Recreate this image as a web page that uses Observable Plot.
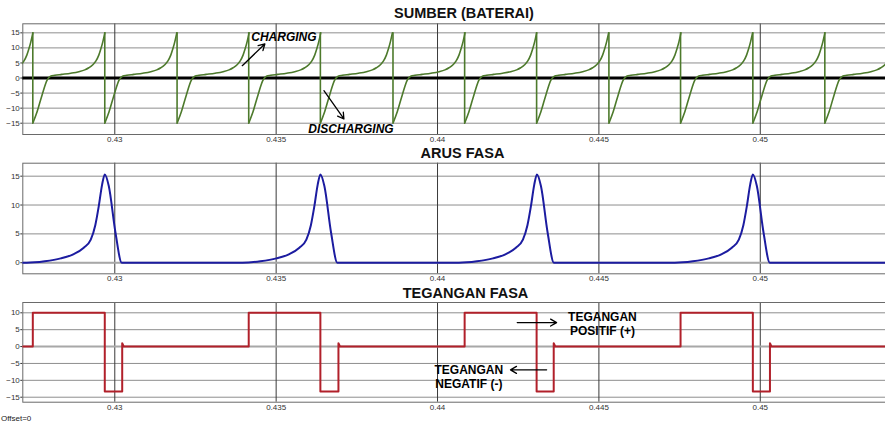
<!DOCTYPE html>
<html>
<head>
<meta charset="utf-8">
<script src="https://cdn.jsdelivr.net/npm/d3@7"></script>
<script src="https://cdn.jsdelivr.net/npm/@observablehq/plot@0.6"></script>
<style>
  html, body { margin: 0; padding: 0; background: #fff; }
  #wrap { position: relative; width: 885px; height: 425px; overflow: hidden; font-family: "Liberation Sans", Arial, sans-serif; }
  .panel { position: absolute; left: 0; }
  .title { position: absolute; transform: translateX(-50%); font-weight: bold; font-size: 14.5px; line-height: 16px; white-space: nowrap; color: #111; }
  #offset { position: absolute; left: 1px; top: 414px; font-size: 8px; color: #222; }
</style>
</head>
<body>
<div id="wrap"></div>
<script>
// ---- data ----
const xDomain = [0.42715, 0.45388];
const xTicks = [0.43, 0.435, 0.44, 0.445, 0.45];
const xTickLabels = ["0.43", "0.435", "0.44", "0.445", "0.45"];

const batteryTicks = [-15, -10, -5, 0, 5, 10, 15];
const currentTicks = [0, 5, 10, 15];
const voltageTicks = [-15, -10, -5, 0, 5, 10];

// battery (SUMBER): cycle start times (drop from +15 to -15); first one is just off-screen
const batteryCycleStarts = [0.42523, 0.42746, 0.42969, 0.43193, 0.43415, 0.43637, 0.43862,
                            0.44084, 0.44307, 0.44531, 0.44753, 0.44977, 0.45200];
// shape of one cycle: offset after drop (ms) and value
const batteryShapeMs = [0, 0.133, 0.288, 0.443, 0.549, 0.682, 0.899, 1.178, 1.426, 1.611, 1.735, 1.859, 1.952, 2.045, 2.107, 2.169, 2.231];
const batteryShapeV  = [-15, -11.2, -5.6, -0.7, 0.6, 0.9, 1.2, 1.6, 2.1, 2.7, 3.4, 4.4, 5.6, 7.6, 9.6, 12, 15];
const batteryPeak = 15, batteryTrough = -15;

// phase current (ARUS FASA): peak times and pulse shape
const currentPeaks = [0.42969, 0.43637, 0.44308, 0.44977];
const currentShapeMs = [-2.417, -1.859, -1.364, -0.961, -0.651, -0.434, -0.294, -0.186, -0.084, 0, 0.124, 0.332, 0.527];
const currentShapeA  = [0, 0.25, 0.75, 1.5, 2.6, 4.0, 6.5, 9.8, 13.5, 15.3, 13.3, 5.2, 0];

// phase voltage (TEGANGAN FASA)
const posStart = [0.42746, 0.43415, 0.44084, 0.44753];
const negStart = [0.42969, 0.43637, 0.44307, 0.44977];
const negEnd   = [0.43023, 0.43693, 0.44360, 0.45030];
const posLevel = 10, negLevel = -13.3, spikeLevel = 1.0, restLevel = 0;

// annotations
const chargeNote = {t: 0.43524, v: 13.7, text: "CHARGING", t1: 0.43395, v1: 4.1, t2: 0.43465, v2: 11.3};
const dischargeNote = {t: 0.43732, v: -16.9, text: "DISCHARGING", t1: 0.43648, v1: -4.2, t2: 0.43710, v2: -13.6};
const posNote = {t: 0.44511, v: 6.87, text: "TEGANGAN\nPOSITIF (+)", t1: 0.44247, v1: 7.1, t2: 0.44369, v2: 7.1};
const negNote = {t: 0.44097, v: -8.9, text: "TEGANGAN\nNEGATIF (-)", t1: 0.44338, v1: -6.9, t2: 0.44226, v2: -6.9};

// ---- build tables ----
const batteryData = [];
batteryCycleStarts.forEach((s, k) => {
  batteryShapeMs.forEach((m, i) => batteryData.push({t: s + m / 1000, v: batteryShapeV[i], cycle: k}));
});

const currentData = [{t: xDomain[0], a: 0}];
currentPeaks.forEach(p => {
  currentShapeMs.forEach((m, i) => currentData.push({t: p + m / 1000, a: currentShapeA[i]}));
});
currentData.push({t: xDomain[1], a: 0});

const voltageData = [{t: xDomain[0], v: restLevel}];
posStart.forEach((s, i) => {
  voltageData.push({t: s, v: restLevel}, {t: s, v: posLevel},
                   {t: negStart[i], v: posLevel}, {t: negStart[i], v: negLevel},
                   {t: negEnd[i], v: negLevel}, {t: negEnd[i], v: spikeLevel},
                   {t: negEnd[i] + 0.00005, v: restLevel});
});
voltageData.push({t: xDomain[1], v: restLevel});

const fmtX = d => xTickLabels[xTicks.indexOf(d)];
const baseStyle = {fontSize: "8px", fontFamily: "Liberation Sans, Arial, sans-serif", color: "#333", background: "transparent", overflow: "visible"};

function xOpts() {
  return {domain: xDomain, ticks: xTicks, tickFormat: fmtX, tickSize: 0, tickPadding: 2, label: null};
}
function gridMarks(yTicks) {
  return [
    Plot.ruleY(yTicks, {stroke: "#8e8e8e", strokeWidth: 1}),
    Plot.ruleX(xTicks, {stroke: "#3a3a3a", strokeWidth: 1}),
    Plot.frame({stroke: "#6a6a6a"})
  ];
}
const annText = {fontWeight: "bold", fontSize: 12, fill: "#000"};

// ---- panel 1: battery ----
const p1 = Plot.plot({
  width: 885, height: 145, marginLeft: 22.3, marginRight: 0, marginTop: 23.3, marginBottom: 11,
  style: baseStyle,
  x: xOpts(),
  y: {domain: [-18.75, 18], ticks: batteryTicks, tickSize: 2, tickPadding: 1, label: null},
  marks: [
    ...gridMarks(batteryTicks),
    Plot.ruleY([0], {stroke: "#000", strokeWidth: 3.2}),
    Plot.ruleX(batteryCycleStarts, {y1: batteryTrough, y2: batteryPeak, stroke: "#4d7a2c", strokeWidth: 1.6, clip: true}),
    Plot.line(batteryData, {x: "t", y: "v", z: "cycle", curve: "monotone-x", stroke: "#4d7a2c", strokeWidth: 1.6, clip: true}),
    Plot.text([chargeNote], {x: "t", y: "v", text: "text", ...annText, fontStyle: "italic"}),
    Plot.text([dischargeNote], {x: "t", y: "v", text: "text", ...annText, fontStyle: "italic"}),
    Plot.arrow([chargeNote, dischargeNote], {x1: "t1", y1: "v1", x2: "t2", y2: "v2", stroke: "#000", strokeWidth: 1.3, headLength: 8})
  ]
});

// ---- panel 2: current ----
const p2 = Plot.plot({
  width: 885, height: 140, marginLeft: 22.3, marginRight: 0, marginTop: 17.7, marginBottom: 11.7,
  style: baseStyle,
  x: xOpts(),
  y: {domain: [-1.92, 17.25], ticks: currentTicks, tickSize: 2, tickPadding: 1, label: null},
  marks: [
    ...gridMarks(currentTicks),
    Plot.ruleY([0], {stroke: "#a8a8a8", strokeWidth: 2}),
    Plot.line(currentData, {x: "t", y: "a", curve: "monotone-x", stroke: "#1c1ca0", strokeWidth: 2, clip: true})
  ]
});

// ---- panel 3: voltage ----
const p3 = Plot.plot({
  width: 885, height: 140, marginLeft: 22.3, marginRight: 0, marginTop: 17, marginBottom: 23.3,
  style: baseStyle,
  x: xOpts(),
  y: {domain: [-16.48, 13.05], ticks: voltageTicks, tickSize: 2, tickPadding: 1, label: null},
  marks: [
    ...gridMarks(voltageTicks),
    Plot.ruleY([0], {stroke: "#a8a8a8", strokeWidth: 2}),
    Plot.line(voltageData, {x: "t", y: "v", stroke: "#b1202a", strokeWidth: 2, clip: true}),
    Plot.text([posNote, negNote], {x: "t", y: "v", text: "text", ...annText, lineHeight: 1.2}),
    Plot.arrow([posNote, negNote], {x1: "t1", y1: "v1", x2: "t2", y2: "v2", stroke: "#000", strokeWidth: 1.3, headLength: 8})
  ]
});

const wrap = document.getElementById("wrap");
[[p1, 0], [p2, 145], [p3, 285]].forEach(([svg, top]) => {
  const d = document.createElement("div");
  d.className = "panel";
  d.style.top = top + "px";
  d.appendChild(svg);
  wrap.appendChild(d);
});
[["SUMBER (BATERAI)", 464, 5.3], ["ARUS FASA", 462.5, 145.3], ["TEGANGAN FASA", 465.5, 284.7]].forEach(([txt, x, y]) => {
  const t = document.createElement("div");
  t.className = "title";
  t.textContent = txt;
  t.style.left = x + "px";
  t.style.top = y + "px";
  wrap.appendChild(t);
});
const off = document.createElement("div");
off.id = "offset";
off.textContent = "Offset=0";
wrap.appendChild(off);
</script>
</body>
</html>
